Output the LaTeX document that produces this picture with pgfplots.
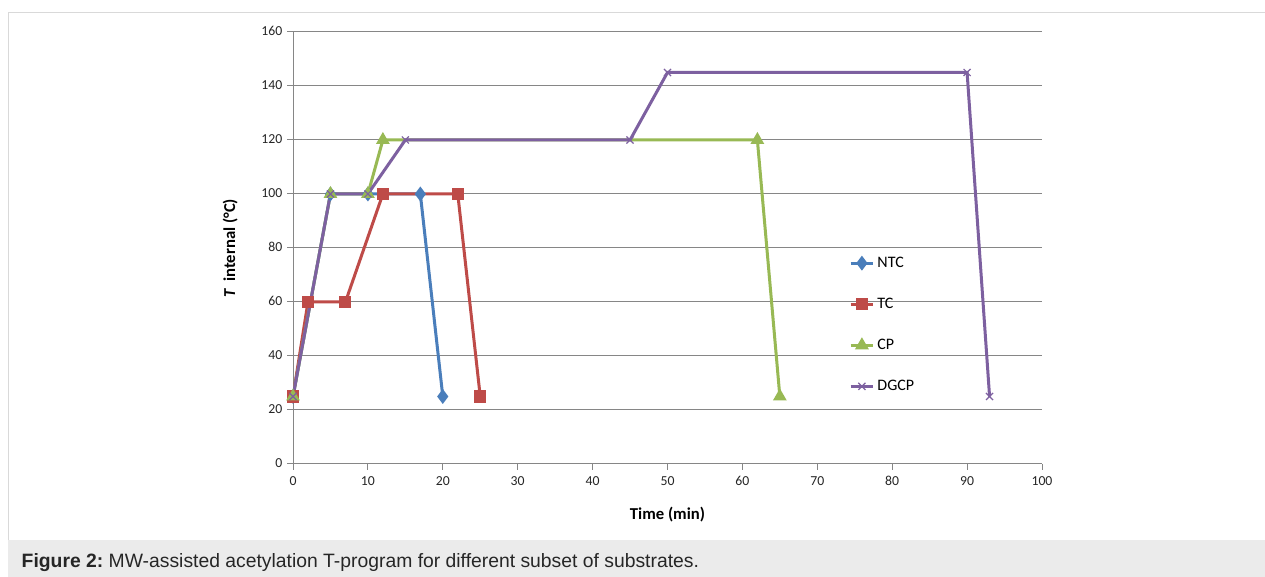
\documentclass[border=0pt]{standalone}
\usepackage{pgfplots}
\pgfplotsset{compat=1.18}
\usepackage{fontspec}
\setmainfont{Carlito}
\newfontfamily\capfont{Liberation Sans}

\definecolor{ntc}{HTML}{4A7EBB}
\definecolor{tc}{HTML}{BE4B48}
\definecolor{cp}{HTML}{98B954}
\definecolor{dgcp}{HTML}{7D60A0}
\definecolor{gridgray}{HTML}{868686}
\definecolor{framegray}{HTML}{D9D9D9}
\definecolor{capgray}{HTML}{EBEBEB}

\begin{document}
\begin{tikzpicture}[x=0.75pt,y=0.75pt]
% page in pixel units, y counted from the bottom
\useasboundingbox (0,0) rectangle (1265,577);
\fill[white] (0,0) rectangle (1265,577);
\fill[capgray] (8,0) rectangle (1265,37);
\draw[framegray, line width=0.75pt] (8.5,37) -- (8.5,564.5) -- (1265,564.5);
\node[anchor=base west, font=\capfont\fontsize{14.5}{16}\selectfont, text=black!85]
  at (17,9) {\textbf{Figure 2:}~MW-assisted acetylation T-program for different subset of substrates.};

\begin{axis}[
    at={(219.75pt,84.75pt)}, anchor=south west,
    scale only axis,
    width=561.75pt, height=324pt,
    xmin=0, xmax=100,
    ymin=0, ymax=160,
    xtick={0,10,...,100},
    ytick={0,20,...,160},
    axis lines*=left,
    axis line style={gridgray, line width=0.75pt},
    tick align=outside,
    major tick length=4.5pt,
    tick style={gridgray, line width=0.75pt},
    ymajorgrids=true,
    grid style={gridgray, line width=0.75pt},
    typeset ticklabels with strut,
    ticklabel style={font=\fontsize{10.3}{12}\selectfont, text=black!85},
    /pgf/number format/assume math mode=true,
    xlabel={\textbf{Time (min)}},
    ylabel={\textbf{\textit{T}\, internal (°C)}},
    label style={font=\fontsize{12.5}{14}\selectfont},
    xlabel style={at={(axis description cs:0.5,-0.118)}, anchor=center},
    ylabel style={at={(axis description cs:-0.084,0.5)}, anchor=center},
    legend style={at={(axis description cs:0.742,0.486)}, anchor=north west,
        draw=none, fill=none, font=\fontsize{12}{14}\selectfont,
        row sep=17.5pt, inner sep=0pt},
    legend cell align=left,
    every axis plot/.append style={line width=2.25pt},
]
\addplot[ntc, mark=diamond*, mark size=3.75pt] coordinates {
    (0,25)(5,100)(10,100)(17,100)(20,25)
};
\addplot[tc, mark=square*, mark size=3.4pt] coordinates {
    (0,25)(2,60)(7,60)(12,100)(22,100)(25,25)
};
\addplot[cp, mark=triangle*, mark size=3.75pt] coordinates {
    (0,25)(5,100)(10,100)(12,120)(62,120)(65,25)
};
\addplot[dgcp, mark=x, mark size=3.75pt, mark options={line width=0.9pt}] coordinates {
    (0,25)(5,100)(10,100)(15,120)(45,120)(50,145)(90,145)(93,25)
};
\legend{NTC,TC,CP,DGCP}
\end{axis}
\end{tikzpicture}
\end{document}
